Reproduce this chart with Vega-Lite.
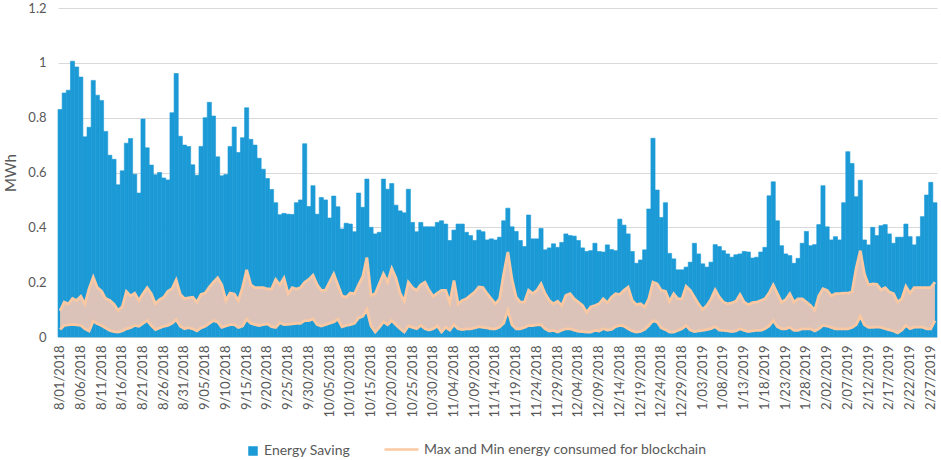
{
  "$schema": "https://vega.github.io/schema/vega-lite/v6.json",
  "width": 879,
  "height": 329,
  "autosize": {"type": "none"},
  "padding": {"left": 58, "top": 8, "right": 4, "bottom": 123},
  "background": "white",
  "config": {
    "view": {"stroke": null},
    "font": "Lato",
    "axis": {"labelFont": "Lato", "titleFont": "Lato", "labelColor": "#595959", "titleColor": "#595959"},
    "legend": {"labelFont": "Lato", "labelColor": "#595959", "labelFontSize": 14, "labelLimit": 500, "padding": 0, "orient": "none"}
  },
  "data": {
    "values": [
      {"d": "8/01/2018", "s": 0.83, "mx": 0.095, "mn": 0.027},
      {"d": "8/02/2018", "s": 0.89, "mx": 0.127, "mn": 0.042},
      {"d": "8/03/2018", "s": 0.9, "mx": 0.12, "mn": 0.044},
      {"d": "8/04/2018", "s": 1.006, "mx": 0.14, "mn": 0.046},
      {"d": "8/05/2018", "s": 0.985, "mx": 0.133, "mn": 0.044},
      {"d": "8/06/2018", "s": 0.948, "mx": 0.148, "mn": 0.042},
      {"d": "8/07/2018", "s": 0.73, "mx": 0.12, "mn": 0.03},
      {"d": "8/08/2018", "s": 0.765, "mx": 0.176, "mn": 0.022},
      {"d": "8/09/2018", "s": 0.936, "mx": 0.218, "mn": 0.058},
      {"d": "8/10/2018", "s": 0.882, "mx": 0.18, "mn": 0.048},
      {"d": "8/11/2018", "s": 0.863, "mx": 0.167, "mn": 0.042},
      {"d": "8/12/2018", "s": 0.75, "mx": 0.14, "mn": 0.033},
      {"d": "8/13/2018", "s": 0.663, "mx": 0.133, "mn": 0.024},
      {"d": "8/14/2018", "s": 0.648, "mx": 0.12, "mn": 0.02},
      {"d": "8/15/2018", "s": 0.555, "mx": 0.097, "mn": 0.018},
      {"d": "8/16/2018", "s": 0.606, "mx": 0.11, "mn": 0.022},
      {"d": "8/17/2018", "s": 0.707, "mx": 0.166, "mn": 0.03},
      {"d": "8/18/2018", "s": 0.724, "mx": 0.15, "mn": 0.034},
      {"d": "8/19/2018", "s": 0.594, "mx": 0.16, "mn": 0.042},
      {"d": "8/20/2018", "s": 0.525, "mx": 0.133, "mn": 0.039},
      {"d": "8/21/2018", "s": 0.795, "mx": 0.158, "mn": 0.05},
      {"d": "8/22/2018", "s": 0.69, "mx": 0.18, "mn": 0.06},
      {"d": "8/23/2018", "s": 0.627, "mx": 0.158, "mn": 0.042},
      {"d": "8/24/2018", "s": 0.592, "mx": 0.121, "mn": 0.027},
      {"d": "8/25/2018", "s": 0.6, "mx": 0.136, "mn": 0.033},
      {"d": "8/26/2018", "s": 0.58, "mx": 0.145, "mn": 0.039},
      {"d": "8/27/2018", "s": 0.573, "mx": 0.167, "mn": 0.042},
      {"d": "8/28/2018", "s": 0.818, "mx": 0.176, "mn": 0.05},
      {"d": "8/29/2018", "s": 0.961, "mx": 0.208, "mn": 0.063},
      {"d": "8/30/2018", "s": 0.732, "mx": 0.155, "mn": 0.039},
      {"d": "8/31/2018", "s": 0.7, "mx": 0.14, "mn": 0.03},
      {"d": "9/01/2018", "s": 0.695, "mx": 0.143, "mn": 0.034},
      {"d": "9/02/2018", "s": 0.628, "mx": 0.145, "mn": 0.03},
      {"d": "9/03/2018", "s": 0.59, "mx": 0.127, "mn": 0.022},
      {"d": "9/04/2018", "s": 0.695, "mx": 0.155, "mn": 0.033},
      {"d": "9/05/2018", "s": 0.8, "mx": 0.16, "mn": 0.039},
      {"d": "9/06/2018", "s": 0.856, "mx": 0.182, "mn": 0.05},
      {"d": "9/07/2018", "s": 0.806, "mx": 0.2, "mn": 0.06},
      {"d": "9/08/2018", "s": 0.657, "mx": 0.216, "mn": 0.055},
      {"d": "9/09/2018", "s": 0.588, "mx": 0.19, "mn": 0.035},
      {"d": "9/10/2018", "s": 0.593, "mx": 0.133, "mn": 0.04},
      {"d": "9/11/2018", "s": 0.695, "mx": 0.16, "mn": 0.045},
      {"d": "9/12/2018", "s": 0.766, "mx": 0.157, "mn": 0.045},
      {"d": "9/13/2018", "s": 0.673, "mx": 0.133, "mn": 0.035},
      {"d": "9/14/2018", "s": 0.727, "mx": 0.18, "mn": 0.04},
      {"d": "9/15/2018", "s": 0.836, "mx": 0.245, "mn": 0.065},
      {"d": "9/16/2018", "s": 0.721, "mx": 0.19, "mn": 0.05},
      {"d": "9/17/2018", "s": 0.7, "mx": 0.18, "mn": 0.045},
      {"d": "9/18/2018", "s": 0.652, "mx": 0.18, "mn": 0.042},
      {"d": "9/19/2018", "s": 0.612, "mx": 0.18, "mn": 0.045},
      {"d": "9/20/2018", "s": 0.578, "mx": 0.175, "mn": 0.048},
      {"d": "9/21/2018", "s": 0.538, "mx": 0.175, "mn": 0.038},
      {"d": "9/22/2018", "s": 0.49, "mx": 0.21, "mn": 0.035},
      {"d": "9/23/2018", "s": 0.446, "mx": 0.19, "mn": 0.052},
      {"d": "9/24/2018", "s": 0.451, "mx": 0.215, "mn": 0.045},
      {"d": "9/25/2018", "s": 0.448, "mx": 0.158, "mn": 0.046},
      {"d": "9/26/2018", "s": 0.447, "mx": 0.18, "mn": 0.048},
      {"d": "9/27/2018", "s": 0.49, "mx": 0.175, "mn": 0.05},
      {"d": "9/28/2018", "s": 0.5, "mx": 0.18, "mn": 0.05},
      {"d": "9/29/2018", "s": 0.705, "mx": 0.2, "mn": 0.06},
      {"d": "9/30/2018", "s": 0.476, "mx": 0.21, "mn": 0.06},
      {"d": "10/01/2018", "s": 0.552, "mx": 0.225, "mn": 0.066},
      {"d": "10/02/2018", "s": 0.448, "mx": 0.19, "mn": 0.045},
      {"d": "10/03/2018", "s": 0.509, "mx": 0.17, "mn": 0.04},
      {"d": "10/04/2018", "s": 0.5, "mx": 0.17, "mn": 0.045},
      {"d": "10/05/2018", "s": 0.434, "mx": 0.2, "mn": 0.05},
      {"d": "10/06/2018", "s": 0.514, "mx": 0.23, "mn": 0.055},
      {"d": "10/07/2018", "s": 0.475, "mx": 0.19, "mn": 0.065},
      {"d": "10/08/2018", "s": 0.394, "mx": 0.15, "mn": 0.037},
      {"d": "10/09/2018", "s": 0.415, "mx": 0.145, "mn": 0.042},
      {"d": "10/10/2018", "s": 0.412, "mx": 0.16, "mn": 0.045},
      {"d": "10/11/2018", "s": 0.384, "mx": 0.157, "mn": 0.05},
      {"d": "10/12/2018", "s": 0.525, "mx": 0.19, "mn": 0.07},
      {"d": "10/13/2018", "s": 0.473, "mx": 0.22, "mn": 0.075},
      {"d": "10/14/2018", "s": 0.576, "mx": 0.29, "mn": 0.1},
      {"d": "10/15/2018", "s": 0.4, "mx": 0.152, "mn": 0.04},
      {"d": "10/16/2018", "s": 0.376, "mx": 0.158, "mn": 0.018},
      {"d": "10/17/2018", "s": 0.382, "mx": 0.194, "mn": 0.035},
      {"d": "10/18/2018", "s": 0.576, "mx": 0.23, "mn": 0.055},
      {"d": "10/19/2018", "s": 0.539, "mx": 0.2, "mn": 0.045},
      {"d": "10/20/2018", "s": 0.56, "mx": 0.25, "mn": 0.06},
      {"d": "10/21/2018", "s": 0.481, "mx": 0.215, "mn": 0.045},
      {"d": "10/22/2018", "s": 0.46, "mx": 0.16, "mn": 0.03},
      {"d": "10/23/2018", "s": 0.453, "mx": 0.13, "mn": 0.018},
      {"d": "10/24/2018", "s": 0.539, "mx": 0.2, "mn": 0.04},
      {"d": "10/25/2018", "s": 0.418, "mx": 0.18, "mn": 0.035},
      {"d": "10/26/2018", "s": 0.384, "mx": 0.17, "mn": 0.03},
      {"d": "10/27/2018", "s": 0.418, "mx": 0.19, "mn": 0.042},
      {"d": "10/28/2018", "s": 0.402, "mx": 0.2, "mn": 0.03},
      {"d": "10/29/2018", "s": 0.402, "mx": 0.17, "mn": 0.025},
      {"d": "10/30/2018", "s": 0.402, "mx": 0.148, "mn": 0.03},
      {"d": "10/31/2018", "s": 0.418, "mx": 0.16, "mn": 0.04},
      {"d": "11/01/2018", "s": 0.424, "mx": 0.17, "mn": 0.018},
      {"d": "11/02/2018", "s": 0.412, "mx": 0.17, "mn": 0.035},
      {"d": "11/03/2018", "s": 0.352, "mx": 0.125, "mn": 0.025},
      {"d": "11/04/2018", "s": 0.39, "mx": 0.206, "mn": 0.045},
      {"d": "11/05/2018", "s": 0.412, "mx": 0.12, "mn": 0.03},
      {"d": "11/06/2018", "s": 0.412, "mx": 0.133, "mn": 0.027},
      {"d": "11/07/2018", "s": 0.382, "mx": 0.139, "mn": 0.03},
      {"d": "11/08/2018", "s": 0.37, "mx": 0.152, "mn": 0.03},
      {"d": "11/09/2018", "s": 0.352, "mx": 0.164, "mn": 0.033},
      {"d": "11/10/2018", "s": 0.39, "mx": 0.182, "mn": 0.038},
      {"d": "11/11/2018", "s": 0.384, "mx": 0.18, "mn": 0.035},
      {"d": "11/12/2018", "s": 0.354, "mx": 0.158, "mn": 0.033},
      {"d": "11/13/2018", "s": 0.358, "mx": 0.139, "mn": 0.03},
      {"d": "11/14/2018", "s": 0.354, "mx": 0.121, "mn": 0.03},
      {"d": "11/15/2018", "s": 0.364, "mx": 0.139, "mn": 0.036},
      {"d": "11/16/2018", "s": 0.424, "mx": 0.23, "mn": 0.05},
      {"d": "11/17/2018", "s": 0.47, "mx": 0.31, "mn": 0.097},
      {"d": "11/18/2018", "s": 0.402, "mx": 0.21, "mn": 0.045},
      {"d": "11/19/2018", "s": 0.385, "mx": 0.145, "mn": 0.03},
      {"d": "11/20/2018", "s": 0.352, "mx": 0.127, "mn": 0.03},
      {"d": "11/21/2018", "s": 0.33, "mx": 0.127, "mn": 0.035},
      {"d": "11/22/2018", "s": 0.445, "mx": 0.17, "mn": 0.042},
      {"d": "11/23/2018", "s": 0.358, "mx": 0.158, "mn": 0.042},
      {"d": "11/24/2018", "s": 0.358, "mx": 0.17, "mn": 0.044},
      {"d": "11/25/2018", "s": 0.396, "mx": 0.194, "mn": 0.045},
      {"d": "11/26/2018", "s": 0.318, "mx": 0.158, "mn": 0.03},
      {"d": "11/27/2018", "s": 0.325, "mx": 0.133, "mn": 0.022},
      {"d": "11/28/2018", "s": 0.34, "mx": 0.121, "mn": 0.024},
      {"d": "11/29/2018", "s": 0.327, "mx": 0.13, "mn": 0.018},
      {"d": "11/30/2018", "s": 0.345, "mx": 0.115, "mn": 0.025},
      {"d": "12/01/2018", "s": 0.376, "mx": 0.152, "mn": 0.03},
      {"d": "12/02/2018", "s": 0.37, "mx": 0.158, "mn": 0.03},
      {"d": "12/03/2018", "s": 0.368, "mx": 0.139, "mn": 0.025},
      {"d": "12/04/2018", "s": 0.352, "mx": 0.127, "mn": 0.021},
      {"d": "12/05/2018", "s": 0.325, "mx": 0.115, "mn": 0.02},
      {"d": "12/06/2018", "s": 0.312, "mx": 0.09, "mn": 0.018},
      {"d": "12/07/2018", "s": 0.315, "mx": 0.11, "mn": 0.018},
      {"d": "12/08/2018", "s": 0.342, "mx": 0.115, "mn": 0.024},
      {"d": "12/09/2018", "s": 0.312, "mx": 0.121, "mn": 0.022},
      {"d": "12/10/2018", "s": 0.31, "mx": 0.139, "mn": 0.03},
      {"d": "12/11/2018", "s": 0.336, "mx": 0.125, "mn": 0.025},
      {"d": "12/12/2018", "s": 0.319, "mx": 0.145, "mn": 0.028},
      {"d": "12/13/2018", "s": 0.315, "mx": 0.158, "mn": 0.038},
      {"d": "12/14/2018", "s": 0.43, "mx": 0.155, "mn": 0.042},
      {"d": "12/15/2018", "s": 0.408, "mx": 0.17, "mn": 0.04},
      {"d": "12/16/2018", "s": 0.376, "mx": 0.182, "mn": 0.03},
      {"d": "12/17/2018", "s": 0.312, "mx": 0.133, "mn": 0.022},
      {"d": "12/18/2018", "s": 0.269, "mx": 0.118, "mn": 0.018},
      {"d": "12/19/2018", "s": 0.281, "mx": 0.121, "mn": 0.02},
      {"d": "12/20/2018", "s": 0.318, "mx": 0.109, "mn": 0.028},
      {"d": "12/21/2018", "s": 0.467, "mx": 0.139, "mn": 0.042},
      {"d": "12/22/2018", "s": 0.725, "mx": 0.2, "mn": 0.06},
      {"d": "12/23/2018", "s": 0.536, "mx": 0.194, "mn": 0.055},
      {"d": "12/24/2018", "s": 0.436, "mx": 0.17, "mn": 0.033},
      {"d": "12/25/2018", "s": 0.49, "mx": 0.167, "mn": 0.027},
      {"d": "12/26/2018", "s": 0.305, "mx": 0.13, "mn": 0.018},
      {"d": "12/27/2018", "s": 0.285, "mx": 0.158, "mn": 0.018},
      {"d": "12/28/2018", "s": 0.245, "mx": 0.139, "mn": 0.024},
      {"d": "12/29/2018", "s": 0.245, "mx": 0.14, "mn": 0.03},
      {"d": "12/30/2018", "s": 0.255, "mx": 0.185, "mn": 0.042},
      {"d": "12/31/2018", "s": 0.273, "mx": 0.17, "mn": 0.025},
      {"d": "1/01/2019", "s": 0.342, "mx": 0.145, "mn": 0.02},
      {"d": "1/02/2019", "s": 0.303, "mx": 0.12, "mn": 0.022},
      {"d": "1/03/2019", "s": 0.267, "mx": 0.1, "mn": 0.024},
      {"d": "1/04/2019", "s": 0.255, "mx": 0.115, "mn": 0.027},
      {"d": "1/05/2019", "s": 0.273, "mx": 0.139, "mn": 0.03},
      {"d": "1/06/2019", "s": 0.337, "mx": 0.172, "mn": 0.038},
      {"d": "1/07/2019", "s": 0.33, "mx": 0.145, "mn": 0.025},
      {"d": "1/08/2019", "s": 0.315, "mx": 0.127, "mn": 0.024},
      {"d": "1/09/2019", "s": 0.303, "mx": 0.121, "mn": 0.022},
      {"d": "1/10/2019", "s": 0.291, "mx": 0.125, "mn": 0.02},
      {"d": "1/11/2019", "s": 0.3, "mx": 0.13, "mn": 0.022},
      {"d": "1/12/2019", "s": 0.303, "mx": 0.155, "mn": 0.03},
      {"d": "1/13/2019", "s": 0.312, "mx": 0.127, "mn": 0.024},
      {"d": "1/14/2019", "s": 0.31, "mx": 0.118, "mn": 0.02},
      {"d": "1/15/2019", "s": 0.288, "mx": 0.125, "mn": 0.022},
      {"d": "1/16/2019", "s": 0.291, "mx": 0.127, "mn": 0.024},
      {"d": "1/17/2019", "s": 0.31, "mx": 0.133, "mn": 0.024},
      {"d": "1/18/2019", "s": 0.327, "mx": 0.139, "mn": 0.03},
      {"d": "1/19/2019", "s": 0.515, "mx": 0.16, "mn": 0.04},
      {"d": "1/20/2019", "s": 0.566, "mx": 0.19, "mn": 0.06},
      {"d": "1/21/2019", "s": 0.424, "mx": 0.158, "mn": 0.038},
      {"d": "1/22/2019", "s": 0.333, "mx": 0.127, "mn": 0.03},
      {"d": "1/23/2019", "s": 0.303, "mx": 0.136, "mn": 0.03},
      {"d": "1/24/2019", "s": 0.297, "mx": 0.158, "mn": 0.035},
      {"d": "1/25/2019", "s": 0.269, "mx": 0.127, "mn": 0.024},
      {"d": "1/26/2019", "s": 0.287, "mx": 0.139, "mn": 0.024},
      {"d": "1/27/2019", "s": 0.342, "mx": 0.139, "mn": 0.03},
      {"d": "1/28/2019", "s": 0.385, "mx": 0.127, "mn": 0.03},
      {"d": "1/29/2019", "s": 0.333, "mx": 0.115, "mn": 0.03},
      {"d": "1/30/2019", "s": 0.337, "mx": 0.097, "mn": 0.022},
      {"d": "1/31/2019", "s": 0.41, "mx": 0.15, "mn": 0.03},
      {"d": "2/01/2019", "s": 0.552, "mx": 0.176, "mn": 0.042},
      {"d": "2/02/2019", "s": 0.402, "mx": 0.17, "mn": 0.04},
      {"d": "2/03/2019", "s": 0.354, "mx": 0.15, "mn": 0.035},
      {"d": "2/04/2019", "s": 0.366, "mx": 0.158, "mn": 0.03},
      {"d": "2/05/2019", "s": 0.354, "mx": 0.158, "mn": 0.03},
      {"d": "2/06/2019", "s": 0.49, "mx": 0.16, "mn": 0.03},
      {"d": "2/07/2019", "s": 0.676, "mx": 0.16, "mn": 0.03},
      {"d": "2/08/2019", "s": 0.633, "mx": 0.164, "mn": 0.035},
      {"d": "2/09/2019", "s": 0.512, "mx": 0.25, "mn": 0.045},
      {"d": "2/10/2019", "s": 0.572, "mx": 0.315, "mn": 0.075},
      {"d": "2/11/2019", "s": 0.354, "mx": 0.23, "mn": 0.045},
      {"d": "2/12/2019", "s": 0.336, "mx": 0.19, "mn": 0.035},
      {"d": "2/13/2019", "s": 0.4, "mx": 0.194, "mn": 0.035},
      {"d": "2/14/2019", "s": 0.37, "mx": 0.192, "mn": 0.037},
      {"d": "2/15/2019", "s": 0.406, "mx": 0.172, "mn": 0.035},
      {"d": "2/16/2019", "s": 0.41, "mx": 0.18, "mn": 0.03},
      {"d": "2/17/2019", "s": 0.376, "mx": 0.164, "mn": 0.026},
      {"d": "2/18/2019", "s": 0.342, "mx": 0.158, "mn": 0.022},
      {"d": "2/19/2019", "s": 0.364, "mx": 0.127, "mn": 0.015},
      {"d": "2/20/2019", "s": 0.364, "mx": 0.139, "mn": 0.025},
      {"d": "2/21/2019", "s": 0.412, "mx": 0.185, "mn": 0.042},
      {"d": "2/22/2019", "s": 0.366, "mx": 0.16, "mn": 0.03},
      {"d": "2/23/2019", "s": 0.336, "mx": 0.18, "mn": 0.036},
      {"d": "2/24/2019", "s": 0.366, "mx": 0.18, "mn": 0.036},
      {"d": "2/25/2019", "s": 0.439, "mx": 0.18, "mn": 0.036},
      {"d": "2/26/2019", "s": 0.518, "mx": 0.18, "mn": 0.03},
      {"d": "2/27/2019", "s": 0.564, "mx": 0.18, "mn": 0.03},
      {"d": "2/28/2019", "s": 0.49, "mx": 0.2, "mn": 0.06}
    ]
  },
  "encoding": {
    "x": {
      "field": "d",
      "type": "ordinal",
      "sort": null,
      "scale": {"paddingInner": 0, "paddingOuter": 0},
      "axis": {
        "title": null,
        "labelAngle": -90,
        "labelFontSize": 13,
        "labelPadding": 8,
        "ticks": false,
        "grid": false,
        "domainColor": "#d9d9d9",
        "values": ["8/01/2018", "8/06/2018", "8/11/2018", "8/16/2018", "8/21/2018", "8/26/2018", "8/31/2018", "9/05/2018", "9/10/2018", "9/15/2018", "9/20/2018", "9/25/2018", "9/30/2018", "10/05/2018", "10/10/2018", "10/15/2018", "10/20/2018", "10/25/2018", "10/30/2018", "11/04/2018", "11/09/2018", "11/14/2018", "11/19/2018", "11/24/2018", "11/29/2018", "12/04/2018", "12/09/2018", "12/14/2018", "12/19/2018", "12/24/2018", "12/29/2018", "1/03/2019", "1/08/2019", "1/13/2019", "1/18/2019", "1/23/2019", "1/28/2019", "2/02/2019", "2/07/2019", "2/12/2019", "2/17/2019", "2/22/2019", "2/27/2019"]
      }
    }
  },
  "layer": [
    {
      "mark": {"type": "bar", "stroke": "#1b9ad6", "strokeWidth": 0.6},
      "encoding": {
        "y": {
          "field": "s",
          "type": "quantitative",
          "scale": {"domain": [0, 1.2], "nice": false},
          "axis": {
            "title": "MWh",
            "values": [0, 0.2, 0.4, 0.6, 0.8, 1, 1.2],
            "format": "~g",
            "labelFontSize": 13,
            "labelPadding": 12,
            "titleFontSize": 15,
            "titleFontWeight": "normal",
            "titlePadding": 9,
            "ticks": false,
            "domain": false,
            "grid": true,
            "gridColor": "#d9d9d9"
          }
        },
        "fill": {
          "datum": "Energy Saving",
          "scale": {"range": ["#1b9ad6"]},
          "legend": {"title": null, "legendX": 188, "legendY": 436, "symbolType": "square", "symbolSize": 64}
        }
      }
    },
    {
      "mark": {"type": "area", "color": "#dbc3b9"},
      "encoding": {
        "x": {"field": "d", "type": "ordinal", "sort": null, "bandPosition": 0.5},
        "y": {"field": "mx", "type": "quantitative"},
        "y2": {"field": "mn"}
      }
    },
    {
      "mark": {"type": "line", "stroke": "#fac8a2", "strokeWidth": 2.8},
      "encoding": {
        "x": {"field": "d", "type": "ordinal", "sort": null, "bandPosition": 0.5},
        "y": {"field": "mx", "type": "quantitative"}
      }
    },
    {
      "mark": {"type": "line", "stroke": "#fac8a2", "strokeWidth": 2.8},
      "encoding": {
        "x": {"field": "d", "type": "ordinal", "sort": null, "bandPosition": 0.5},
        "y": {"field": "mn", "type": "quantitative"},
        "stroke": {
          "datum": "Max and Min energy consumed for blockchain",
          "scale": {"range": ["#fac8a2"]},
          "legend": {"title": null, "legendX": 325, "legendY": 423, "symbolType": "stroke", "symbolSize": 1156, "symbolStrokeWidth": 2.5}
        }
      }
    }
  ]
}
